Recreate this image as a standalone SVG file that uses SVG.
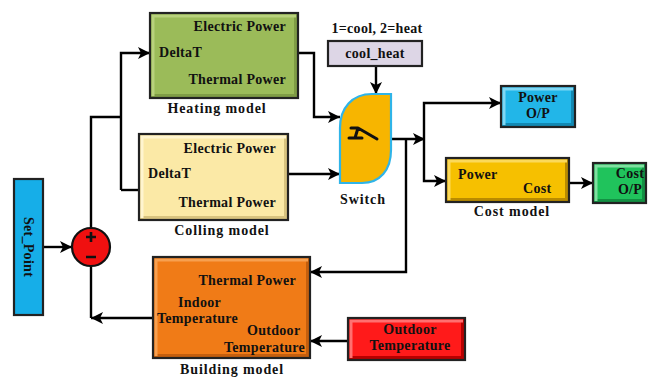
<svg xmlns="http://www.w3.org/2000/svg" width="654" height="378" viewBox="0 0 654 378">
<defs>
<marker id="ah" markerUnits="userSpaceOnUse" markerWidth="14" markerHeight="12" refX="12" refY="6" orient="auto">
<path d="M0,0 L12,6 L0,12 L3,6 Z" fill="#000"/>
</marker>
</defs>
<style>
text{font-family:"Liberation Serif","Times New Roman",serif;font-weight:bold;fill:#111;}
.t{font-size:14px;letter-spacing:0.3px;}
.lbl{font-size:14px;letter-spacing:0.9px;text-anchor:middle;}
.box{stroke:#222;stroke-width:2.2;}
.in{fill:none;stroke-width:3;}
.c{fill:none;stroke:#000;stroke-width:2.4;}
.a{marker-end:url(#ah);}
.e{text-anchor:end;}
.m{text-anchor:middle;}
</style>
<rect width="654" height="378" fill="#fff"/>

<g id="connectors">
<path class="c a" d="M43,247 H72"/>
<path class="c" d="M91,228 V117 H121"/>
<path class="c a" d="M121,190 V53 H150"/>
<path class="c" d="M121,190 H140"/>
<path class="c a" d="M298,53 H314 V117 H340"/>
<path class="c a" d="M288,174 H340"/>
<path class="c a" d="M376,66 V94"/>
<path class="c a" d="M391,139 H425"/>
<path class="c a" d="M424,139 V103 H501"/>
<path class="c a" d="M424,139 V181 H446"/>
<path class="c a" d="M406,139 V272 H310"/>
<path class="c a" d="M569,183 H593"/>
<path class="c a" d="M348,341 H310"/>
<path class="c a" d="M153,318 H91"/>
<path class="c" d="M91,318 V266"/>
</g>

<g id="heating">
<rect class="box" x="150" y="13" width="148" height="85" fill="#7f9c45"/>
<rect x="154" y="17" width="140" height="77" fill="#9bbb59"/>
<path class="in" d="M153,96 V16 H296" stroke="#b8d17c"/>
<text class="t e" x="286" y="31">Electric Power</text>
<text class="t" x="159" y="57">DeltaT</text>
<text class="t e" x="286" y="84">Thermal Power</text>
<text class="lbl" x="217" y="113">Heating model</text>
</g>

<g id="cooling">
<rect class="box" x="139" y="134" width="149" height="86" fill="#d8c37f"/>
<rect x="143" y="138" width="141" height="78" fill="#fbe9a6"/>
<path class="in" d="M142,218 V137 H286" stroke="#fff5cf"/>
<text class="t e" x="276" y="153">Electric Power</text>
<text class="t" x="148" y="178">DeltaT</text>
<text class="t e" x="276" y="207">Thermal Power</text>
<text class="lbl" x="222" y="235">Colling model</text>
</g>

<g id="set_point">
<rect class="box" x="14" y="179" width="29" height="136" fill="#16aee8"/>
<text class="t m" transform="translate(24,247) rotate(90)">Set_Point</text>
</g>

<g id="sum">
<circle cx="91" cy="247" r="19" fill="#f01010" stroke="#111" stroke-width="2.2"/>
<path d="M86,237 H96 M91,232 V242 M86,257 H96" stroke="#111" stroke-width="2.6" fill="none"/>
</g>

<g id="building">
<rect class="box" x="153" y="257" width="157" height="101" fill="#c45f0e"/>
<rect x="157" y="261" width="149" height="93" fill="#f07b17"/>
<path class="in" d="M156,356 V260 H308" stroke="#f7a050"/>
<text class="t e" x="296" y="285">Thermal Power</text>
<text class="t" x="178" y="307">Indoor</text>
<text class="t" x="157" y="323">Temperature</text>
<text class="t" x="247" y="335">Outdoor</text>
<text class="t" x="224" y="352">Temperature</text>
<text class="lbl" x="232" y="374">Building model</text>
</g>

<g id="switch">
<text class="t m" x="377" y="33">1=cool, 2=heat</text>
<rect x="328" y="41" width="94" height="25" fill="#ddd6e6" stroke="#222" stroke-width="2.2"/>
<text class="t m" x="375" y="58">cool_heat</text>
<path d="M340,183 V128 C340,108 352,94 372,94 H391 V150 C391,170 380,183 362,183 Z" fill="#f7b500" stroke="#2fb4e8" stroke-width="2.2"/>
<path d="M351,128 H358 L355,138 M349,138 H362 M358,128 L377,139" fill="none" stroke="#111" stroke-width="3" stroke-linejoin="round" stroke-linecap="round"/>
<text class="lbl" x="363" y="204">Switch</text>
</g>

<g id="power_op">
<rect class="box" x="501" y="86" width="74" height="41" fill="#1289b3"/>
<rect x="505" y="90" width="66" height="33" fill="#22b6e8"/>
<path class="in" d="M504,125 V89 H573" stroke="#7fd7f4"/>
<text class="t m" x="538" y="102">Power</text>
<text class="t m" x="538" y="118">O/P</text>
</g>

<g id="cost_model">
<rect class="box" x="446" y="158" width="123" height="44" fill="#b98b00"/>
<rect x="450" y="162" width="115" height="36" fill="#f6c000"/>
<path class="in" d="M449,200 V161 H567" stroke="#fbd95a"/>
<text class="t" x="458" y="179">Power</text>
<text class="t" x="523" y="193">Cost</text>
<text class="lbl" x="512" y="216">Cost model</text>
</g>

<g id="cost_op">
<rect class="box" x="593" y="163" width="53" height="40" fill="#139043"/>
<rect x="597" y="167" width="45" height="32" fill="#20c35c"/>
<path class="in" d="M596,201 V166 H644" stroke="#7fe0a0"/>
<text class="t m" x="630" y="178">Cost</text>
<text class="t m" x="630" y="194">O/P</text>
</g>

<g id="outdoor">
<rect class="box" x="348" y="318" width="117" height="42" fill="#b80000"/>
<rect x="352" y="322" width="109" height="34" fill="#ff1a1a"/>
<path class="in" d="M351,358 V321 H463" stroke="#ff7070"/>
<text class="t m" x="410" y="334">Outdoor</text>
<text class="t m" x="410" y="350">Temperature</text>
</g>
</svg>
